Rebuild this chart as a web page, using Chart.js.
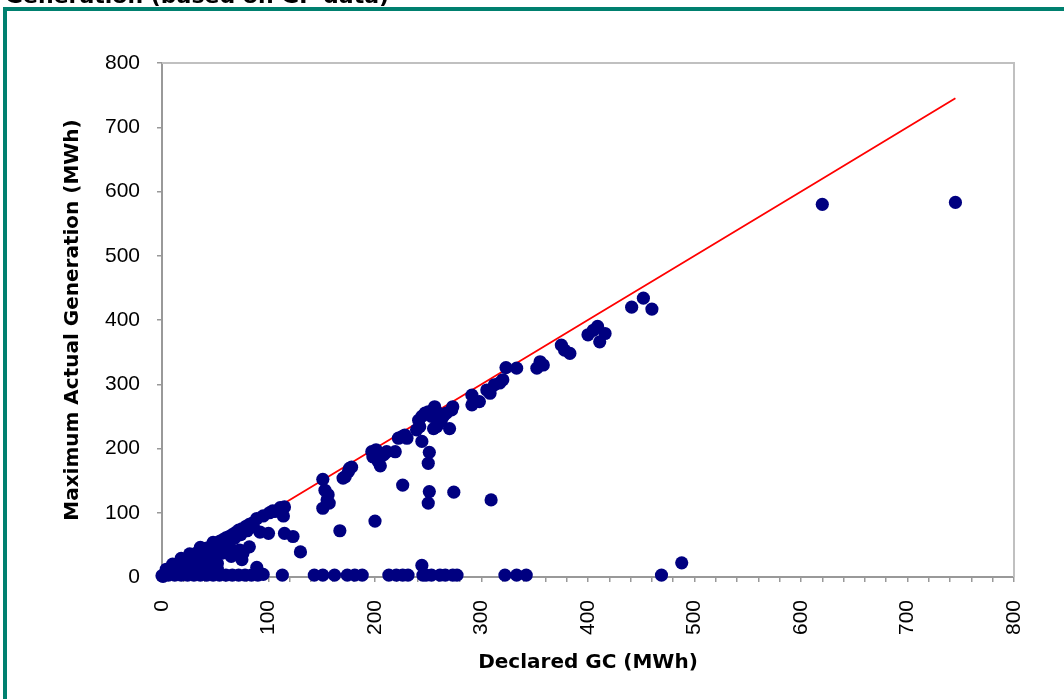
<!DOCTYPE html>
<html>
<head>
<meta charset="utf-8">
<title>Declared GC vs Maximum Actual Generation</title>
<script src="https://cdn.jsdelivr.net/npm/chart.js"></script>
<style>
  html, body { margin: 0; padding: 0; background: #fff; overflow: hidden; }
  #page { position: relative; width: 1064px; height: 699px; }
  #heading { position: absolute; left: 5px; top: -15px; font: bold 22px "DejaVu Sans", sans-serif; line-height: 22px; white-space: nowrap; color: #000; }
  #frameTop { position: absolute; left: 3px; top: 7px; width: 1061px; height: 4px; background: #00806f; }
  #frameLeft { position: absolute; left: 3px; top: 7px; width: 4px; height: 692px; background: #00806f; }
  canvas { position: absolute; left: 0; top: 0; }
</style>
</head>
<body>
<div id="page">
  <canvas id="myChart" width="1064" height="699"></canvas>
  <div id="frameTop"></div>
  <div id="frameLeft"></div>
  <div id="heading">Generation (based on GP data)</div>
</div>
<script>
// data block - each unit: declared GC (x) and max actual generation (y), MWh
// units that produced (almost) nothing
const zeroGC  = [0, 6, 12, 18, 24, 30, 36, 42, 48, 54, 60, 66, 72, 78, 84, 90, 95, 113, 143, 151, 162, 174, 181, 188,
                 213, 220, 226, 231, 245, 248, 253, 261, 266, 273, 277, 322, 333, 342, 469, 244, 488];
const zeroGen = [2, 3, 3, 3, 3, 3, 3, 3, 3, 3, 3, 3, 3, 3, 3, 3, 4, 3, 3, 3, 3, 3, 3, 3,
                 3, 3, 3, 3, 3, 3, 3, 3, 3, 3, 3, 3, 3, 3, 3, 18, 22];

// small units (under ~130 MWh)
const smallGC  = [4, 10, 16, 22, 28, 34, 40, 46, 52,
                  10, 16, 22, 28, 34, 40, 46, 52,
                  18, 24, 30, 36, 42, 48,
                  26, 32, 38, 44, 50, 56,
                  36, 42, 48, 54, 58,
                  48, 54, 60,
                  56, 62, 68, 74, 80, 86,
                  64, 66, 65, 73, 75, 76, 82, 89, 89, 79, 72, 100, 92, 106, 114, 115, 115, 123, 130,
                  1, 3, 6, 9, 12, 15, 18, 21, 24, 27, 30, 33, 36, 39, 42, 45, 48, 51, 54, 57, 60, 63, 66, 69,
                  75, 82, 85, 95, 101, 104, 111];
const smallGen = [12, 11, 12, 12, 11, 12, 12, 11, 12,
                  20, 21, 20, 21, 20, 21, 20, 21,
                  29, 28, 28, 29, 28, 28,
                  36, 37, 36, 37, 36, 37,
                  46, 45, 46, 45, 47,
                  54, 55, 54,
                  48, 54, 60, 66, 72, 78,
                  45, 38, 32, 42, 27, 37, 47, 15, 91, 79, 73, 68, 70, 102, 95, 109, 68, 63, 39,
                  1, 5, 7, 10, 13, 16, 19, 22, 25, 28, 31, 34, 37, 40, 43, 46, 49, 52, 55, 58, 61, 63, 66, 69,
                  75, 82, 84, 95, 100, 103, 108];

// mid and large units
const largeGC  = [151, 153, 156, 155, 157, 151, 167, 170, 172, 175, 176, 178, 200,
                  197, 198, 201, 203, 205, 208, 211, 219, 222, 225, 228, 230, 226,
                  241, 242, 244, 247, 250, 253, 255, 256, 258, 259, 261, 262, 264, 267, 272, 273,
                  239, 255, 258, 270, 244, 251, 250, 251, 250, 274, 309,
                  291, 291, 298, 305, 308, 312, 317, 320, 323, 333, 352, 358, 355,
                  375, 378, 383, 400, 405, 409, 416, 411, 441, 452, 460, 620, 745];
const largeGen = [152, 135, 128, 120, 115, 107, 72, 154, 156, 164, 169, 171, 87,
                  195, 187, 198, 180, 173, 190, 195, 195, 216, 218, 221, 216, 143,
                  244, 234, 250, 255, 257, 250, 260, 265, 257, 244, 252, 242, 250, 255, 260, 265,
                  229, 231, 234, 231, 211, 194, 177, 133, 115, 132, 120,
                  283, 268, 273, 291, 286, 299, 302, 307, 326, 325, 325, 330, 335,
                  361, 353, 348, 377, 384, 390, 379, 366, 420, 434, 417, 580, 583];

// reference line: generation equal to declared GC
const refLineGC  = [0, 100, 200, 300, 410, 465, 620, 745];
const refLineGen = [0, 100, 200, 300, 410, 465, 620, 745];

const declaredGC = zeroGC.concat(smallGC, largeGC);
const actualGen = zeroGen.concat(smallGen, largeGen);

const scatterPoints = declaredGC.map((gc, i) => ({ x: gc, y: actualGen[i] }));
const refLine = refLineGC.map((gc, i) => ({ x: gc, y: refLineGen[i] }));

// light grey box on the top and right of the plot area
const plotFrame = {
    id: 'plotFrame',
    beforeDatasetsDraw(chart) {
        const { ctx, chartArea } = chart;
        ctx.save();
        ctx.strokeStyle = '#c0c0c0';
        ctx.lineWidth = 2;
        ctx.beginPath();
        ctx.moveTo(chartArea.left, chartArea.top);
        ctx.lineTo(chartArea.right, chartArea.top);
        ctx.lineTo(chartArea.right, chartArea.bottom);
        ctx.stroke();
        ctx.restore();
    }
};

const tickFont = { family: 'Liberation Sans', size: 21 };
const titleFont = { family: 'DejaVu Sans', size: 20, weight: 'bold' };
const axisGrey = '#999999';

//config block
const config = {
    type: 'scatter',
    data: {
        datasets: [
            {
                label: 'Units',
                data: scatterPoints,
                pointStyle: 'circle',
                backgroundColor: '#000080',
                borderColor: '#000080',
                borderWidth: 0,
                pointRadius: 6.6,
                pointHoverRadius: 6.6,
                clip: false,
                order: 1
            },
            {
                label: 'Declared GC',
                data: refLine,
                showLine: true,
                borderColor: '#ff0000',
                borderWidth: 1.8,
                pointRadius: 0,
                fill: false,
                clip: false,
                order: 2
            }
        ]
    },
    options: {
        responsive: false,
        animation: false,
        layout: { padding: { top: 63, right: 50, left: 0, bottom: 0 } },
        plugins: {
            legend: { display: false },
            tooltip: { enabled: false }
        },
        scales: {
            x: {
                type: 'linear',
                min: 0,
                max: 800,
                afterFit(scale) { scale.height = 122; },
                border: { display: true, color: axisGrey, width: 2 },
                grid: { drawOnChartArea: false, drawTicks: true, tickLength: 5, color: axisGrey, lineWidth: 1.5 },
                ticks: {
                    stepSize: 20,
                    autoSkip: false,
                    minRotation: 90,
                    maxRotation: 90,
                    padding: 18,
                    color: '#000',
                    font: tickFont,
                    callback: (v) => (v % 100 === 0 ? v : '')
                },
                title: {
                    display: true,
                    text: 'Declared GC (MWh)',
                    color: '#000',
                    font: titleFont,
                    padding: { top: 0, bottom: 24 }
                }
            },
            y: {
                min: 0,
                max: 800,
                afterFit(scale) { scale.width = 162; },
                border: { display: true, color: axisGrey, width: 2 },
                grid: { drawOnChartArea: false, drawTicks: true, tickLength: 5, color: axisGrey, lineWidth: 1.5 },
                ticks: {
                    stepSize: 100,
                    padding: 17,
                    color: '#000',
                    font: tickFont
                },
                title: {
                    display: true,
                    text: 'Maximum Actual Generation (MWh)',
                    color: '#000',
                    font: titleFont,
                    padding: { top: 61, bottom: 0 }
                }
            }
        }
    },
    plugins: [plotFrame]
};

//render block
const myChart = new Chart(document.getElementById('myChart'), config);
</script>
</body>
</html>
